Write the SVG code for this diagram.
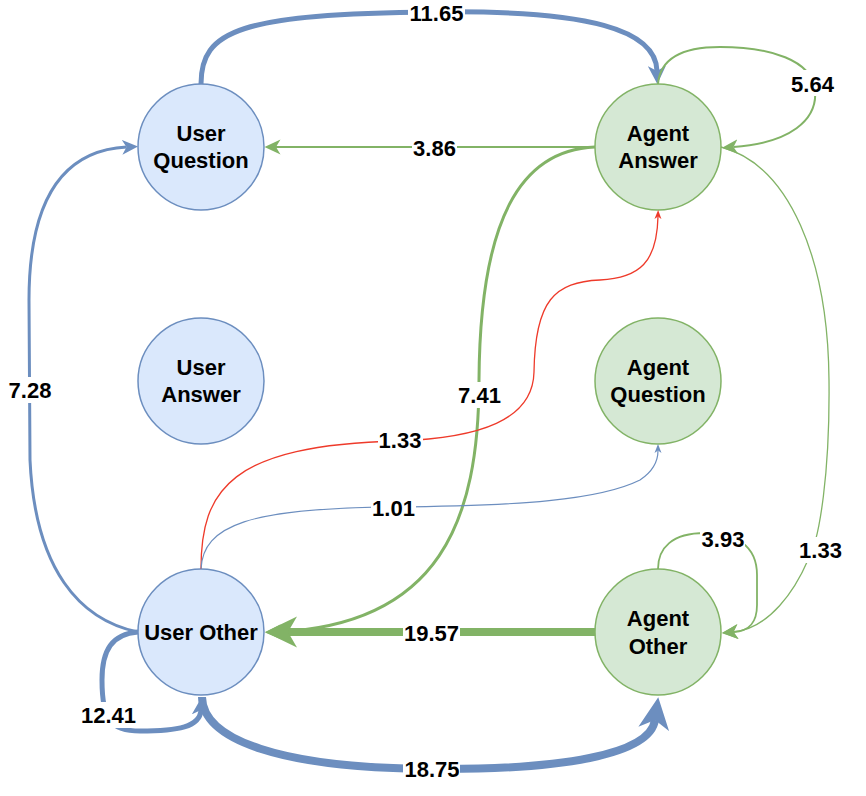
<svg xmlns="http://www.w3.org/2000/svg" width="866" height="796" viewBox="0 0 866 796">
<style>
.nb{fill:#dae8fc;stroke:#6c8ebf;stroke-width:1.5}
.ng{fill:#d5e8d4;stroke:#82b366;stroke-width:1.5}
.nt{font-family:"Liberation Sans",Arial,Helvetica,sans-serif;font-weight:bold;font-size:22px;fill:#000;text-anchor:middle}
.e{fill:none}
.b{stroke:#6c8ebf}
.g{stroke:#82b366}
.r{stroke:#ee3a2a}
.lb{fill:#fff}
.lt{font-family:"Liberation Sans",Arial,Helvetica,sans-serif;font-weight:bold;font-size:22px;fill:#000;text-anchor:middle}
</style>
<defs>
<marker id="bS" markerUnits="userSpaceOnUse" viewBox="0 -4 9 8" markerWidth="9" markerHeight="8" refX="2.5" refY="0" orient="auto"><path d="M0,-3.5 L9,0 L0,3.5 L2.5,0 Z" fill="#6c8ebf"/></marker>
<marker id="rS" markerUnits="userSpaceOnUse" viewBox="0 -4 9 8" markerWidth="9" markerHeight="8" refX="2.5" refY="0" orient="auto"><path d="M0,-3.5 L9,0 L0,3.5 L2.5,0 Z" fill="#ee3a2a"/></marker>
<marker id="gM" markerUnits="userSpaceOnUse" viewBox="0 -8 16 16" markerWidth="16" markerHeight="16" refX="4.5" refY="0" orient="auto"><path d="M0,-7.5 L16,0 L0,7.5 L4.5,0 Z" fill="#82b366"/></marker>
<marker id="bM" markerUnits="userSpaceOnUse" viewBox="0 -8 16 16" markerWidth="16" markerHeight="16" refX="4.5" refY="0" orient="auto"><path d="M0,-7.5 L16,0 L0,7.5 L4.5,0 Z" fill="#6c8ebf"/></marker>
<marker id="bL" markerUnits="userSpaceOnUse" viewBox="0 -9 18 18" markerWidth="18" markerHeight="18" refX="5" refY="0" orient="auto"><path d="M0,-9 L18,0 L0,9 L5,0 Z" fill="#6c8ebf"/></marker>
<marker id="bX" markerUnits="userSpaceOnUse" viewBox="0 -16 32 32" markerWidth="32" markerHeight="32" refX="9" refY="0" orient="auto"><path d="M0,-15.5 L32,0 L0,15.5 L9,0 Z" fill="#6c8ebf"/></marker>
<marker id="gX" markerUnits="userSpaceOnUse" viewBox="0 -16 32 32" markerWidth="32" markerHeight="32" refX="9" refY="0" orient="auto"><path d="M0,-15.5 L32,0 L0,15.5 L9,0 Z" fill="#82b366"/></marker>
</defs>

<g id="node-user-question"><circle class="nb" cx="201" cy="147" r="63"/><text class="nt" x="201" y="141">User</text><text class="nt" x="201" y="168">Question</text></g>
<g id="node-agent-answer"><circle class="ng" cx="658" cy="147" r="63"/><text class="nt" x="658" y="141">Agent</text><text class="nt" x="658" y="168">Answer</text></g>
<g id="node-user-answer"><circle class="nb" cx="201" cy="381" r="63"/><text class="nt" x="201" y="375">User</text><text class="nt" x="201" y="402">Answer</text></g>
<g id="node-agent-question"><circle class="ng" cx="658" cy="381" r="63"/><text class="nt" x="658" y="375">Agent</text><text class="nt" x="658" y="402">Question</text></g>
<g id="node-user-other"><circle class="nb" cx="201" cy="632" r="63"/><text class="nt" x="201" y="640">User Other</text></g>
<g id="node-agent-other"><circle class="ng" cx="658" cy="632" r="63"/><text class="nt" x="658" y="626">Agent</text><text class="nt" x="658" y="654">Other</text></g>

<g id="connectors">
<g id="e-uq-aa"><path class="e b" stroke-width="5" d="M201,84 C201,30 240,14 435,12 C590,10 656,30 657,71" marker-end="url(#bL)"/></g>
<g id="e-aa-uq"><path class="e g" stroke-width="2" d="M595,147 L276,147" marker-end="url(#gM)"/></g>
<g id="e-aa-aa"><path class="e g" stroke-width="2" d="M658,84 C660,60 680,47 720,47 C770,47 812,60 815,90 C818,120 790,143 733.5,147" marker-end="url(#gM)"/></g>
<g id="e-aa-uo"><path class="e g" stroke-width="3" d="M595,147 C520,150 480,220 479,380 C479,520 440,625 276.5,632" marker-end="url(#gM)"/></g>
<g id="e-aa-ao"><path class="e g" stroke-width="1.3" d="M721,147 C790,165 828,260 829,380 C830,470 820,540 808,560 C795,590 770,628 733.5,632" marker-end="url(#gM)"/></g>
<g id="e-ao-ao"><path class="e g" stroke-width="1.8" d="M658,569 C658,548 672,533 705,533 C735,533 757,545 757,575 L757,605 C757,622 750,631 733.5,632" marker-end="url(#gM)"/></g>
<g id="e-ao-uo"><path class="e g" stroke-width="8" d="M595,632 L288,632" marker-end="url(#gX)"/></g>
<g id="e-uo-ao"><path class="e b" stroke-width="8" d="M202,697 C203,740 280,768 432,769 C560,770 650,755 655,720" marker-end="url(#bX)"/></g>
<g id="e-uo-uo"><path class="e b" stroke-width="5" d="M138,632 C112,634 102,650 102,680 C102,722 112,731 140,731 C178,731 200,727 201,710" marker-end="url(#bL)"/></g>
<g id="e-uo-uq"><path class="e b" stroke-width="3" d="M138,632 C80,620 35,570 30,460 L29,300 C29,190 70,150 126.5,147" marker-end="url(#bM)"/></g>
<g id="e-uo-aa"><path class="e r" stroke-width="1.3" d="M201,569 C201,490 230,445 398,441 C480,438 533,420 534,372 C535,300 555,282 600,280 C640,278 657,262 658,216.5" marker-end="url(#rS)"/></g>
<g id="e-uo-aq"><path class="e b" stroke-width="1.2" d="M201,569 C203,525 250,508 393,507 C520,506 600,500 640,480 C652,472 658,462 658,450.5" marker-end="url(#bS)"/></g>

<g id="edge-labels">
<rect class="lb" x="408" y="0" width="57" height="26"/><text class="lt" x="436.5" y="21">11.65</text>
<rect class="lb" x="412" y="135" width="45" height="26"/><text class="lt" x="434.5" y="156">3.86</text>
<rect class="lb" x="790" y="70" width="45" height="26"/><text class="lt" x="812.5" y="91.5">5.64</text>
<rect class="lb" x="457" y="382" width="45" height="26"/><text class="lt" x="479.5" y="403">7.41</text>
<rect class="lb" x="378" y="427" width="45" height="26"/><text class="lt" x="400" y="448">1.33</text>
<rect class="lb" x="371" y="494" width="45" height="26"/><text class="lt" x="393.5" y="515.5">1.01</text>
<rect class="lb" x="700" y="526" width="45" height="26"/><text class="lt" x="723" y="547">3.93</text>
<rect class="lb" x="798" y="537" width="45" height="26"/><text class="lt" x="820.5" y="558">1.33</text>
<rect class="lb" x="8" y="377" width="45" height="26"/><text class="lt" x="30" y="398">7.28</text>
<rect class="lb" x="80" y="702" width="57" height="26"/><text class="lt" x="108.5" y="723">12.41</text>
<rect class="lb" x="403" y="620" width="57" height="26"/><text class="lt" x="431.5" y="641">19.57</text>
<rect class="lb" x="403" y="756" width="57" height="26"/><text class="lt" x="432" y="777">18.75</text>
</g>
</g>
</svg>
